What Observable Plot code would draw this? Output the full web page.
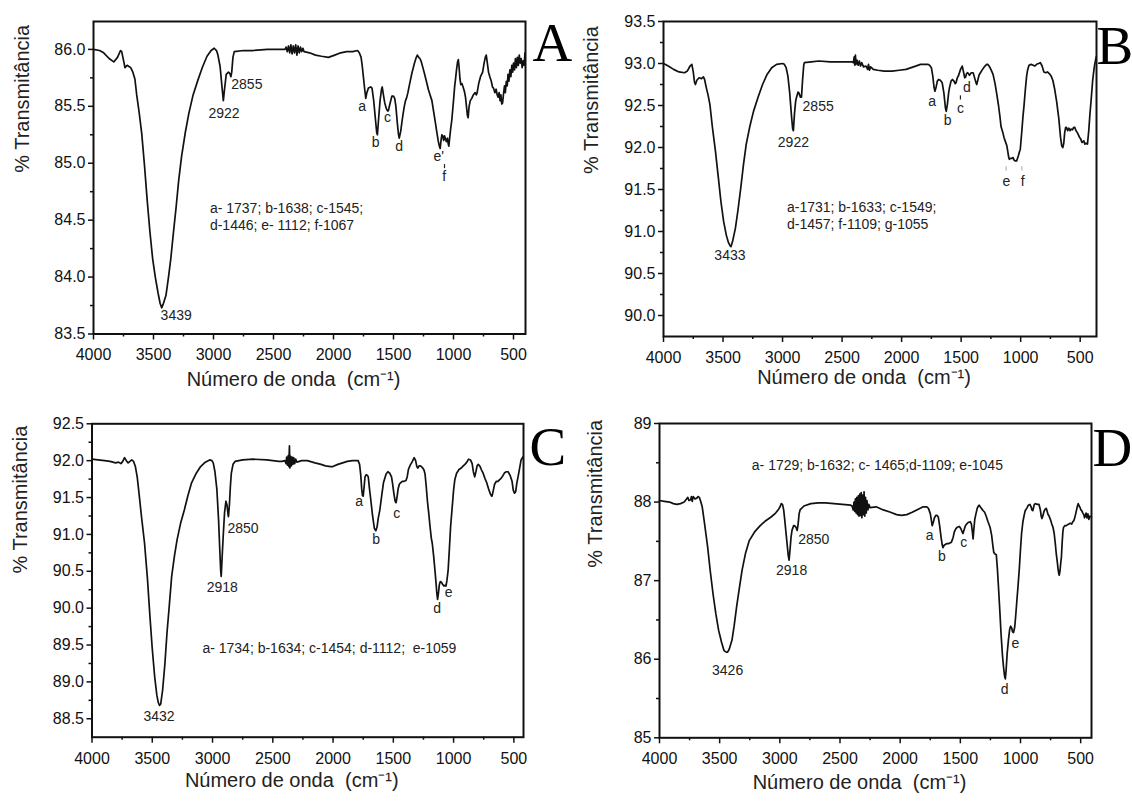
<!DOCTYPE html>
<html><head><meta charset="utf-8">
<script src="https://cdn.jsdelivr.net/npm/d3@7"></script>
<script src="https://cdn.jsdelivr.net/npm/@observablehq/plot@0.6"></script>
<style>
html,body{margin:0;padding:0;background:#fff;}
#fig{position:relative;width:1132px;height:801px;overflow:hidden;background:#fff;}
.panel{position:absolute;}
.panel svg{overflow:visible;}
</style></head><body><div id="fig"></div>
<script>
// ---------- shared axis definitions ----------
const xTicks = [4000, 3500, 3000, 2500, 2000, 1500, 1000, 500];
const xMinorTicks = [3750, 3250, 2750, 2250, 1750, 1250, 750];
const xLabel = "Número de onda  (cm⁻¹)";
const yLabel = "% Transmitância";

// ---------- Panel A ----------
const spectrumA = [[4000,86.00],[3950,85.99],[3915,85.97],[3870,85.92],[3831,85.89],[3800,85.93],[3775,85.99],[3765,85.98],[3745,85.88],[3738,85.84],[3720,85.86],[3705,85.85],[3690,85.84],[3672,85.80],[3655,85.74],[3640,85.60],[3620,85.45],[3598,85.26],[3575,84.98],[3553,84.68],[3530,84.40],[3507,84.16],[3485,84.00],[3462,83.86],[3445,83.77],[3432,83.73],[3420,83.76],[3396,83.84],[3375,84.00],[3356,84.16],[3335,84.38],[3311,84.62],[3290,84.85],[3266,85.06],[3235,85.27],[3205,85.44],[3170,85.60],[3130,85.73],[3090,85.85],[3054,85.94],[3020,85.99],[2994,86.01],[2975,85.99],[2963,85.95],[2945,85.85],[2930,85.68],[2918,85.55],[2908,85.65],[2894,85.78],[2875,85.80],[2864,85.79],[2855,85.76],[2848,85.80],[2838,85.93],[2827,85.98],[2750,85.99],[2676,85.99],[2550,86.00],[2404,86.00],[2395,86.02],[2385,85.98],[2375,86.03],[2365,85.97],[2355,86.04],[2345,85.96],[2335,86.03],[2325,85.97],[2315,86.04],[2305,85.95],[2295,86.03],[2285,85.97],[2275,86.02],[2265,85.98],[2255,86.01],[2245,85.98],[2200,85.97],[2150,85.95],[2100,85.94],[2042,85.93],[1990,85.95],[1940,85.97],[1891,85.98],[1840,85.98],[1800,85.99],[1785,85.97],[1770,85.93],[1760,85.85],[1750,85.75],[1740,85.65],[1731,85.57],[1722,85.62],[1709,85.66],[1690,85.67],[1679,85.66],[1665,85.55],[1650,85.38],[1640,85.27],[1634,85.25],[1625,85.38],[1612,85.55],[1600,85.65],[1594,85.67],[1584,85.60],[1573,85.53],[1560,85.48],[1550,85.46],[1543,85.46],[1530,85.52],[1513,85.59],[1500,85.59],[1490,85.57],[1480,85.50],[1468,85.35],[1458,85.25],[1452,85.22],[1440,85.28],[1430,85.36],[1422,85.42],[1410,85.50],[1400,85.55],[1392,85.57],[1380,85.62],[1365,85.70],[1347,85.79],[1325,85.88],[1310,85.93],[1301,85.95],[1290,85.93],[1280,85.92],[1271,85.90],[1255,85.84],[1240,85.78],[1226,85.72],[1210,85.65],[1195,85.60],[1180,85.55],[1165,85.45],[1150,85.35],[1140,85.28],[1128,85.20],[1118,85.15],[1111,85.13],[1104,85.20],[1097,85.25],[1090,85.24],[1082,85.20],[1075,85.24],[1068,85.22],[1060,85.19],[1050,85.22],[1044,85.17],[1039,85.15],[1032,85.22],[1024,85.30],[1014,85.38],[1000,85.55],[990,85.68],[984,85.73],[975,85.82],[966,85.89],[960,85.91],[954,85.85],[946,85.74],[939,85.69],[930,85.70],[920,85.67],[909,85.63],[900,85.58],[890,85.48],[884,85.42],[878,85.40],[870,85.50],[860,85.55],[848,85.57],[835,85.60],[820,85.62],[810,85.60],[803,85.62],[790,85.70],[775,85.76],[757,85.80],[745,85.88],[735,85.93],[727,85.95],[718,85.88],[708,85.80],[697,85.76],[685,85.72],[675,85.67],[667,85.66],[655,85.62],[645,85.65],[636,85.60],[628,85.58],[620,85.62],[612,85.55],[605,85.60],[598,85.52],[591,85.53],[584,85.60],[575,85.68],[568,85.62],[560,85.72],[552,85.68],[546,85.78],[538,85.72],[530,85.82],[522,85.76],[514,85.86],[507,85.80],[500,85.88],[492,85.82],[484,85.92],[476,85.84],[468,85.93],[460,85.86],[452,85.95],[444,85.88],[436,85.92],[428,85.84],[420,85.90],[412,85.86],[404,85.97]];
const yTicksA = [83.5, 84.0, 84.5, 85.0, 85.5, 86.0];
const yMinorA = [83.75, 84.25, 84.75, 85.25, 85.75];
const peaksA = [[3311,83.66,"3439"],[2912,85.44,"2922"],[2722,85.69,"2855"],[1761,85.50,"a"],[1649,85.18,"b"],[1549,85.40,"c"],[1452,85.15,"d"],[1124,85.06,"e'"],[1077,84.88,"f"]];
const markersA = [[1075,84.952,84.988,"#222"]];
const notesA = [[3030,84.60,"a- 1737; b-1638; c-1545;"],[3030,84.45,"d-1446; e- 1112; f-1067"]];

// ---------- Panel B ----------
const spectrumB = [[4000,93.00],[3960,92.97],[3915,92.93],[3870,92.90],[3823,92.89],[3800,92.91],[3777,92.97],[3762,92.99],[3750,92.90],[3740,92.78],[3732,92.75],[3720,92.80],[3701,92.83],[3680,92.82],[3665,92.84],[3655,92.81],[3640,92.71],[3625,92.62],[3610,92.51],[3590,92.25],[3564,91.96],[3540,91.65],[3518,91.36],[3495,91.12],[3473,90.96],[3455,90.87],[3440,90.83],[3433,90.82],[3420,90.88],[3396,91.04],[3375,91.25],[3351,91.52],[3328,91.80],[3305,92.04],[3275,92.25],[3244,92.43],[3205,92.60],[3168,92.75],[3130,92.87],[3091,92.95],[3050,92.99],[3000,93.00],[2985,92.99],[2970,92.95],[2955,92.85],[2940,92.65],[2924,92.36],[2915,92.22],[2909,92.20],[2900,92.40],[2890,92.55],[2884,92.59],[2870,92.66],[2863,92.65],[2850,92.60],[2841,92.60],[2832,92.80],[2822,92.98],[2817,93.01],[2760,93.02],[2695,93.03],[2600,93.02],[2500,93.02],[2420,93.02],[2405,93.01],[2398,93.08],[2393,92.98],[2388,93.10],[2383,92.99],[2375,93.04],[2365,92.98],[2355,93.03],[2345,92.97],[2335,93.01],[2320,92.96],[2299,92.97],[2285,92.93],[2278,92.99],[2270,92.92],[2260,92.96],[2238,92.93],[2200,92.92],[2146,92.91],[2080,92.91],[2020,92.92],[1963,92.93],[1900,92.96],[1841,92.99],[1800,92.99],[1780,92.99],[1765,92.98],[1750,92.95],[1738,92.85],[1728,92.72],[1720,92.67],[1710,92.72],[1700,92.79],[1689,92.81],[1675,92.80],[1659,92.77],[1645,92.65],[1632,92.47],[1625,92.43],[1615,92.52],[1605,92.65],[1598,92.71],[1585,92.79],[1573,92.81],[1560,92.79],[1550,92.76],[1543,92.77],[1532,92.83],[1521,92.86],[1505,92.93],[1491,92.97],[1480,92.90],[1470,92.83],[1462,92.84],[1455,92.88],[1445,92.89],[1430,92.86],[1415,92.89],[1399,92.89],[1385,92.82],[1375,92.77],[1369,92.75],[1360,92.80],[1350,92.86],[1338,92.89],[1320,92.93],[1300,92.97],[1285,92.99],[1277,92.99],[1265,92.97],[1250,92.93],[1232,92.87],[1215,92.76],[1200,92.63],[1186,92.50],[1175,92.38],[1165,92.25],[1150,92.18],[1140,92.12],[1128,92.07],[1116,92.02],[1108,91.95],[1100,91.88],[1095,91.86],[1085,91.87],[1075,91.87],[1064,91.88],[1055,91.85],[1045,91.84],[1034,91.84],[1020,91.90],[1010,91.95],[1003,91.98],[990,92.20],[980,92.38],[973,92.48],[960,92.70],[950,92.85],[942,92.92],[930,92.98],[912,92.99],[895,92.98],[880,92.97],[866,92.99],[850,93.00],[835,93.01],[820,92.97],[805,92.90],[790,92.89],[775,92.90],[760,92.88],[744,92.85],[730,92.80],[715,92.70],[698,92.55],[680,92.35],[665,92.12],[655,92.02],[646,92.00],[638,92.05],[630,92.18],[622,92.24],[616,92.24],[605,92.20],[595,92.23],[585,92.20],[576,92.22],[565,92.21],[555,92.24],[546,92.24],[535,92.20],[525,92.18],[515,92.15],[505,92.12],[495,92.10],[485,92.06],[475,92.07],[470,92.08],[460,92.04],[450,92.05],[439,92.04],[428,92.20],[418,92.40],[409,92.55],[395,92.80],[385,92.92],[378,92.99],[365,93.08]];
const yTicksB = [90.0, 90.5, 91.0, 91.5, 92.0, 92.5, 93.0, 93.5];
const yMinorB = [90.25, 90.75, 91.25, 91.75, 92.25, 92.75, 93.25];
const peaksB = [[3442,90.72,"3433"],[2909,92.06,"2922"],[2701,92.49,"2855"],[1744,92.55,"a"],[1613,92.32,"b"],[1506,92.47,"c"],[1451,92.71,"d"],[1119,91.60,"e"],[982,91.60,"f"]];
const markersB = [[1506,92.565,92.615,"#222"],[1122,91.72,91.77,"#b5b5b5"],[990,91.72,91.77,"#b5b5b5"]];
const notesB = [[2963,91.28,"a-1731; b-1633; c-1549;"],[2963,91.08,"d-1457; f-1109; g-1055"]];

// ---------- Panel C ----------
const spectrumC = [[4000,92.02],[3950,92.01],[3895,92.00],[3850,91.99],[3805,91.97],[3780,91.98],[3760,91.96],[3745,91.99],[3730,92.04],[3715,92.00],[3700,91.97],[3685,91.99],[3670,92.01],[3655,91.99],[3640,91.92],[3625,91.78],[3610,91.56],[3590,91.25],[3564,90.88],[3540,90.40],[3519,89.88],[3500,89.45],[3480,89.07],[3462,88.82],[3450,88.72],[3440,88.68],[3430,88.70],[3414,88.89],[3395,89.25],[3378,89.66],[3358,90.05],[3339,90.43],[3315,90.72],[3294,90.93],[3265,91.15],[3234,91.33],[3205,91.52],[3174,91.70],[3135,91.83],[3099,91.92],[3060,91.98],[3024,92.01],[3005,92.00],[2994,91.97],[2980,91.85],[2964,91.61],[2950,91.20],[2940,90.80],[2932,90.50],[2928,90.43],[2920,90.70],[2910,91.02],[2900,91.30],[2889,91.45],[2880,91.40],[2872,91.28],[2868,91.24],[2860,91.40],[2852,91.65],[2844,91.83],[2830,91.95],[2813,91.99],[2750,92.01],[2663,92.02],[2550,92.01],[2450,91.99],[2423,91.99],[2400,92.00],[2390,91.96],[2385,92.05],[2378,91.94],[2372,92.07],[2367,91.92],[2362,92.20],[2358,91.90],[2352,92.06],[2346,91.93],[2340,92.05],[2333,91.95],[2326,92.04],[2318,91.96],[2310,92.02],[2300,91.98],[2260,92.00],[2213,92.00],[2150,91.97],[2100,91.95],[2063,91.93],[2020,91.92],[2002,91.92],[1960,91.95],[1920,91.97],[1882,91.99],[1840,92.00],[1792,92.00],[1780,91.95],[1770,91.80],[1762,91.61],[1756,91.53],[1750,91.52],[1742,91.65],[1735,91.78],[1725,91.81],[1715,91.80],[1708,91.78],[1698,91.62],[1687,91.47],[1672,91.25],[1657,91.08],[1645,91.05],[1635,91.10],[1625,91.22],[1612,91.33],[1597,91.52],[1582,91.70],[1560,91.82],[1545,91.85],[1530,91.83],[1515,91.78],[1507,91.70],[1495,91.55],[1485,91.45],[1477,91.43],[1468,91.52],[1460,91.62],[1450,91.68],[1440,91.70],[1426,91.72],[1410,91.72],[1395,91.73],[1385,91.78],[1375,91.88],[1360,91.94],[1345,91.98],[1327,92.04],[1315,92.00],[1305,91.92],[1297,91.90],[1285,91.93],[1275,91.93],[1267,91.92],[1255,91.90],[1245,91.87],[1237,91.82],[1227,91.65],[1217,91.45],[1207,91.30],[1195,91.10],[1185,90.95],[1177,90.88],[1165,90.70],[1155,90.52],[1146,90.35],[1140,90.22],[1133,90.12],[1126,90.20],[1118,90.32],[1110,90.36],[1100,90.35],[1090,90.32],[1080,90.30],[1070,90.31],[1063,90.30],[1055,90.38],[1045,90.52],[1035,90.80],[1025,91.10],[1011,91.38],[1000,91.60],[990,91.74],[975,91.83],[955,91.88],[936,91.90],[920,91.93],[906,91.95],[890,91.98],[876,92.02],[860,92.01],[846,91.96],[836,91.85],[825,91.78],[815,91.85],[805,91.93],[795,91.95],[780,91.92],[770,91.88],[755,91.83],[740,91.76],[725,91.70],[710,91.62],[695,91.55],[685,91.52],[681,91.52],[670,91.60],[660,91.68],[645,91.72],[630,91.72],[620,91.74],[606,91.76],[590,91.80],[575,91.84],[561,91.85],[548,91.85],[531,91.80],[515,91.72],[505,91.60],[495,91.56],[485,91.58],[475,91.70],[464,91.79],[452,91.90],[440,92.01],[425,92.05]];
const yTicksC = [88.5, 89.0, 89.5, 90.0, 90.5, 91.0, 91.5, 92.0, 92.5];
const yMinorC = [88.75, 89.25, 89.75, 90.25, 90.75, 91.25, 91.75, 92.25];
const peaksC = [[3444,88.53,"3432"],[2919,90.28,"2918"],[2747,91.08,"2850"],[1783,91.45,"a"],[1642,90.93,"b"],[1471,91.28,"c"],[1137,90.00,"d"],[1041,90.21,"e"]];
const notesC = [[3084,89.45,"a- 1734; b-1634; c-1454; d-1112;\u00a0 e-1059"]];

// ---------- Panel D ----------
const spectrumD = [[4000,88.02],[3960,88.01],[3916,88.00],[3885,87.98],[3856,87.97],[3825,87.98],[3795,88.00],[3775,88.04],[3765,88.06],[3755,88.02],[3741,88.03],[3735,88.07],[3728,88.01],[3720,88.07],[3705,88.04],[3690,88.05],[3680,88.07],[3669,88.06],[3660,88.02],[3645,87.94],[3625,87.72],[3600,87.43],[3578,87.12],[3555,86.83],[3532,86.58],[3509,86.37],[3485,86.22],[3464,86.11],[3445,86.09],[3434,86.09],[3420,86.13],[3398,86.24],[3380,86.42],[3359,86.67],[3337,86.90],[3314,87.13],[3285,87.35],[3254,87.51],[3210,87.62],[3163,87.70],[3120,87.76],[3073,87.81],[3035,87.86],[3010,87.91],[2998,87.94],[2988,87.98],[2978,87.97],[2968,87.90],[2959,87.77],[2945,87.55],[2930,87.32],[2923,87.26],[2915,87.40],[2907,87.55],[2899,87.64],[2885,87.70],[2878,87.70],[2866,87.68],[2856,87.64],[2848,87.72],[2840,87.85],[2832,87.90],[2800,87.95],[2742,87.98],[2680,87.99],[2622,87.99],[2550,87.98],[2480,87.97],[2411,87.96],[2400,87.95],[2390,87.90],[2384,88.00],[2378,87.88],[2372,88.04],[2366,87.86],[2360,88.06],[2354,87.84],[2348,88.08],[2342,87.82],[2336,88.10],[2330,87.83],[2324,88.12],[2318,87.80],[2312,88.09],[2306,87.84],[2300,88.13],[2294,87.82],[2288,88.06],[2282,87.86],[2276,88.02],[2268,87.90],[2260,87.97],[2250,87.93],[2200,87.94],[2140,87.90],[2080,87.87],[2030,87.84],[1990,87.83],[1945,87.84],[1900,87.87],[1850,87.91],[1809,87.94],[1779,87.94],[1765,87.92],[1749,87.85],[1740,87.76],[1734,87.70],[1725,87.74],[1715,87.80],[1704,87.83],[1693,87.83],[1683,87.81],[1672,87.70],[1660,87.55],[1650,87.45],[1644,87.42],[1635,87.45],[1625,87.46],[1614,87.47],[1600,87.47],[1587,87.48],[1574,87.49],[1560,87.55],[1550,87.62],[1538,87.66],[1525,87.68],[1508,87.69],[1495,87.66],[1485,87.62],[1478,87.60],[1468,87.65],[1458,87.70],[1448,87.72],[1435,87.74],[1418,87.75],[1408,87.72],[1400,87.62],[1394,87.53],[1388,87.65],[1380,87.78],[1373,87.83],[1360,87.92],[1350,87.95],[1343,87.96],[1325,87.92],[1310,87.89],[1298,87.87],[1285,87.82],[1270,87.75],[1253,87.68],[1240,87.58],[1230,87.45],[1222,87.36],[1212,87.34],[1201,87.33],[1192,87.15],[1183,86.92],[1172,86.62],[1162,86.33],[1150,86.05],[1141,85.90],[1132,85.78],[1126,85.75],[1120,85.85],[1111,86.07],[1100,86.25],[1090,86.38],[1082,86.42],[1074,86.40],[1066,86.35],[1058,86.34],[1048,86.41],[1040,86.55],[1030,86.75],[1021,86.92],[1010,87.15],[1000,87.40],[991,87.60],[980,87.75],[970,87.83],[961,87.89],[945,87.93],[935,87.96],[922,87.97],[912,87.94],[905,87.90],[898,87.89],[890,87.94],[885,87.97],[876,87.98],[860,87.97],[846,87.97],[835,87.90],[828,87.82],[822,87.79],[815,87.82],[805,87.88],[795,87.91],[786,87.92],[778,87.88],[771,87.84],[765,87.83],[752,87.78],[740,87.72],[730,87.68],[720,87.60],[710,87.46],[702,87.33],[696,87.26],[688,87.15],[682,87.09],[678,87.07],[672,87.12],[666,87.22],[660,87.30],[654,87.48],[648,87.62],[642,87.68],[630,87.70],[621,87.70],[610,87.71],[598,87.72],[588,87.73],[575,87.72],[565,87.75],[558,87.76],[551,87.79],[540,87.86],[530,87.93],[521,87.98],[512,87.95],[505,87.93],[498,87.90],[491,87.89],[482,87.86],[474,87.84],[468,87.80],[461,87.83],[455,87.86],[448,87.80],[440,87.85],[432,87.78],[425,87.82],[412,87.81]];
const yTicksD = [85, 86, 87, 88, 89];
const yMinorD = [85.5, 86.5, 87.5, 88.5];
const peaksD = [[3434,85.86,"3426"],[2902,87.13,"2918"],[2718,87.52,"2850"],[1755,87.58,"a"],[1653,87.31,"b"],[1472,87.49,"c"],[1132,85.61,"d"],[1042,86.20,"e"]];
const notesD = [[3233,88.47,"a- 1729; b-1632; c- 1465;d-1109; e-1045"]];

// ---------- rendering ----------
const SANS = "'Liberation Sans', Arial, Helvetica, sans-serif";
const SERIF = "'Liberation Serif', 'Times New Roman', serif";
const INK = "#111";

function panel(cfg) {
  const data = cfg.spectrum.map(([w, t]) => ({w, t}));
  const svg = Plot.plot({
    width: 566,
    height: cfg.height,
    marginLeft: cfg.m[3], marginRight: cfg.m[1], marginTop: cfg.m[0], marginBottom: cfg.m[2],
    style: {fontFamily: SANS, fontSize: "16px", color: INK, background: "transparent", overflow: "visible"},
    x: {domain: cfg.xDomain, label: null},
    y: {domain: cfg.yDomain, label: null},
    marks: [
      Plot.axisX(xMinorTicks, {tickSize: 3, strokeWidth: 1.5, tickFormat: () => "", label: null}),
      Plot.axisX(xTicks, {tickSize: 6, tickPadding: 9, strokeWidth: 1.5, tickFormat: d => String(d), label: null}),
      Plot.axisY(cfg.yMinor, {tickSize: 3, strokeWidth: 1.5, tickFormat: () => "", label: null}),
      Plot.axisY(cfg.yTicks, {tickSize: 5, tickPadding: 3, strokeWidth: 1.5, tickFormat: cfg.yFormat, label: null}),
      Plot.line(data, {x: "w", y: "t", stroke: INK, strokeWidth: 1.7, strokeLinejoin: "round"}),
      Plot.frame({stroke: INK, strokeWidth: 2}),
      Plot.ruleX(cfg.markers || [], {x: d => d[0], y1: d => d[1], y2: d => d[2], stroke: d => d[3], strokeWidth: 1.2}),
      Plot.text(cfg.peaks, {x: d => d[0], y: d => d[1], text: d => d[2], fontSize: 14, fill: "#222"}),
      Plot.text(cfg.notes, {x: d => d[0], y: d => d[1], text: d => d[2], fontSize: 14, textAnchor: "start", fill: "#222"}),
      Plot.text([yLabel], {frameAnchor: "left", text: d => d, rotate: -90, dx: cfg.yLab[0], dy: cfg.yLab[1], fontSize: 20, fill: "#222"}),
      Plot.text([xLabel], {frameAnchor: "bottom", text: d => d, dx: cfg.xLab[0], dy: cfg.xLab[1], fontSize: 20, fill: "#222"}),
      Plot.text([cfg.letter], {frameAnchor: "top-right", text: d => d, textAnchor: "start", lineAnchor: "top", dx: cfg.letterDx, dy: cfg.letterDy, fontFamily: SERIF, fontSize: 55, fill: "#000"})
    ]
  });
  const div = document.createElement("div");
  div.className = "panel";
  div.style.left = cfg.left + "px";
  div.style.top = cfg.top + "px";
  div.appendChild(svg);
  document.getElementById("fig").appendChild(div);
}

const fmt1 = d => d.toFixed(1);
const fmt0 = d => d.toFixed(0);

panel({letter: "A", spectrum: spectrumA, left: 0, top: 0, height: 400, m: [21, 41, 66.5, 93],
  xDomain: [4000, 400], yDomain: [83.5, 86.245], yTicks: yTicksA, yMinor: yMinorA, yFormat: fmt1,
  peaks: peaksA, markers: markersA, notes: notesA, yLab: [-71, -5], xLab: [-16, 52], letterDx: 7, letterDy: 0});
panel({letter: "B", spectrum: spectrumB, left: 566, top: 0, height: 400, m: [21, 36, 64, 97],
  xDomain: [4000, 363], yDomain: [89.75, 93.5], yTicks: yTicksB, yMinor: yMinorB, yFormat: fmt1,
  peaks: peaksB, markers: markersB, notes: notesB, yLab: [-72, -5], xLab: [-16, 47], letterDx: 0, letterDy: 3});
panel({letter: "C", spectrum: spectrumC, left: 0, top: 400, height: 401, m: [23.3, 43, 64.3, 91.5],
  xDomain: [4000, 420], yDomain: [88.25, 92.5], yTicks: yTicksC, yMinor: yMinorC, yFormat: fmt1,
  peaks: peaksC, notes: notesC, yLab: [-71.5, -7], xLab: [-16, 50], letterDx: 6, letterDy: 2});
panel({letter: "D", spectrum: spectrumD, left: 566, top: 400, height: 401, m: [23, 41, 63.7, 93],
  xDomain: [4000, 410], yDomain: [85, 89], yTicks: yTicksD, yMinor: yMinorD, yFormat: fmt0,
  peaks: peaksD, notes: notesD, yLab: [-64, -13], xLab: [-16, 51], letterDx: 1, letterDy: 3});
</script></body></html>
